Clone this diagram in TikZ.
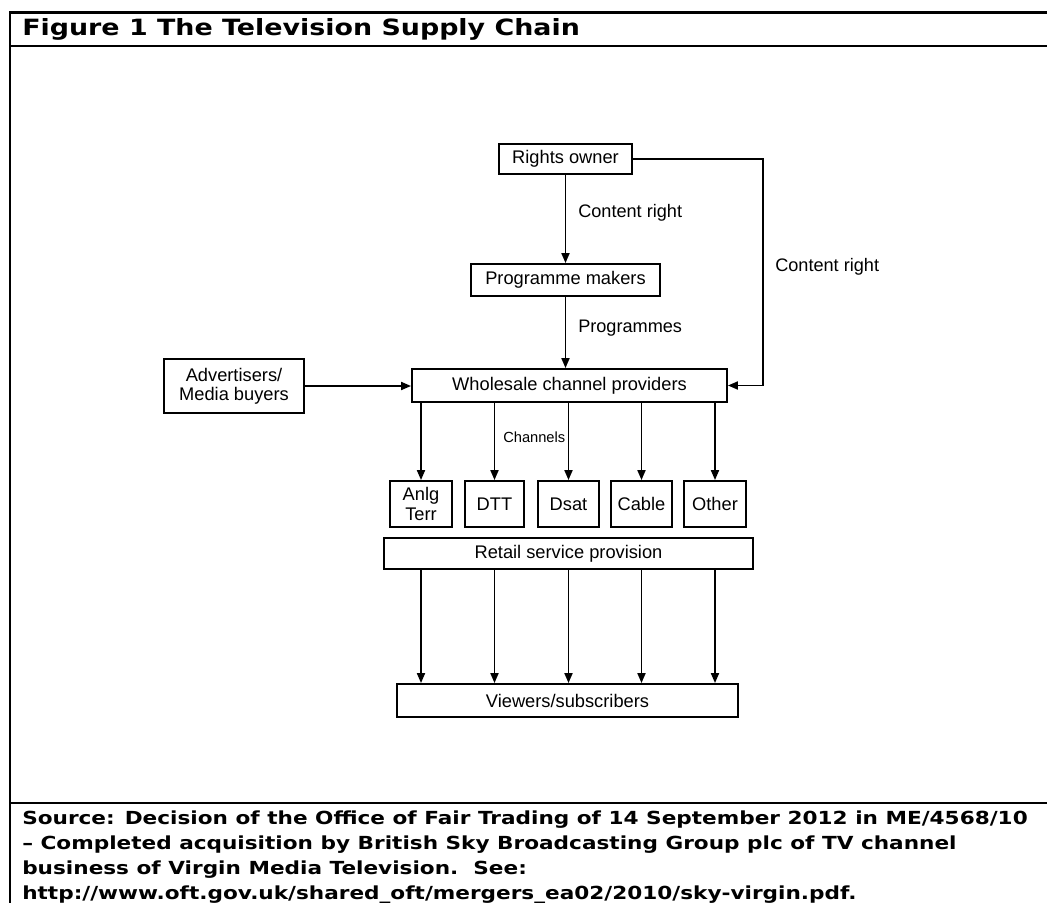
\documentclass[tikz,border=0pt]{standalone}
\usepackage{fontspec}
\setmainfont{Liberation Sans}
\newfontfamily\verd[FakeStretch=1.2]{DejaVu Sans}
\usetikzlibrary{arrows.meta}
\begin{document}
\begin{tikzpicture}[x=0.75pt,y=-0.75pt,
  box/.style={draw,line width=1.4pt,inner sep=0pt,align=center,font=\fontsize{13.7}{14.5}\selectfont},
  lbl/.style={anchor=west,inner sep=0pt,font=\fontsize{13.6}{14.5}\selectfont},
  arr/.style={line width=1.4pt,-{Triangle[length=7.5pt,width=6pt]}},
  frame/.style={line width=1.6pt},
  src/.style={anchor=base west,inner sep=0pt,font=\verd\bfseries\fontsize{13.5}{15}\selectfont}]
\useasboundingbox (0,0) rectangle (1047,903);
\clip (0,0) rectangle (1047,903);
% frame
\draw[frame] (1047,12.5) -- (10,12.5) -- (10,903);
\draw[frame] (10,46) -- (1047,46);
\draw[frame] (10,803) -- (1047,803);
\node[anchor=base west,inner sep=0pt,font=\verd\bfseries\fontsize{16.8}{18}\selectfont] (title) at (22,36) {Figure 1 The Television Supply Chain};
% boxes
\node[box,minimum width=99.75pt,minimum height=22.5pt] (rights) at (565.5,159) {Rights owner};
\node[box,minimum width=141.75pt,minimum height=24pt] (prog) at (565.5,280) {Programme makers};
\node[box,minimum width=236.25pt,minimum height=24.75pt] (whole) at (569.5,385.5) {Wholesale channel providers};
\node[box,minimum width=105pt,minimum height=40.5pt] (adv) at (234,386) {Advertisers/\\Media buyers};
\node[box,minimum width=46.5pt,minimum height=34.5pt] (anlg) at (421,504) {Anlg\\Terr};
\node[box,minimum width=44.25pt,minimum height=34.5pt] (dtt) at (494.5,504) {DTT};
\node[box,minimum width=45.75pt,minimum height=34.5pt] (dsat) at (568.5,504) {Dsat};
\node[box,minimum width=45.75pt,minimum height=34.5pt] (cable) at (641.5,504) {Cable};
\node[box,minimum width=46.5pt,minimum height=34.5pt] (other) at (715,504) {Other};
\node[box,minimum width=276.75pt,minimum height=23.25pt] (retail) at (568.5,553.5) {Retail service provision};
\node[box,minimum width=255.75pt,minimum height=24.75pt] (viewers) at (567.5,700.5) {Viewers/subscribers};
% labels
\node[lbl] (l1) at (578,213) {Content right};
\node[lbl] (l2) at (578,328) {Programmes};
\node[lbl] (l3) at (775,267) {Content right};
\node[lbl,font=\fontsize{11}{12}\selectfont] (l4) at (503,437) {Channels};
% connectors
\coordinate (rc) at (763,159);
\draw[arr] (rights.south) -- (prog.north);
\draw[arr] (prog.south) -- (prog.south |- whole.north);
\draw[arr] (rights.east) -- (rc) |- (whole.east);
\draw[arr] (adv.east) -- (adv.east -| whole.west);
\foreach \n in {anlg,dtt,dsat,cable,other}{
  \draw[arr] (\n.north |- whole.south) -- (\n.north);
  \draw[arr] (\n |- retail.south) -- (\n |- viewers.north);
}
% source
\node[src] (s1) at (22,824) {Source: Decision of the Office of Fair Trading of 14 September 2012 in ME/4568/10};
\node[src] (s2) at (22,849) {– Completed acquisition by British Sky Broadcasting Group plc of TV channel};
\node[src] (s3) at (22,874) {business of Virgin Media Television.\ \ See:};
\node[src] (s4) at (22,899) {http://www.oft.gov.uk/shared\_oft/mergers\_ea02/2010/sky-virgin.pdf.};
\end{tikzpicture}
\end{document}
